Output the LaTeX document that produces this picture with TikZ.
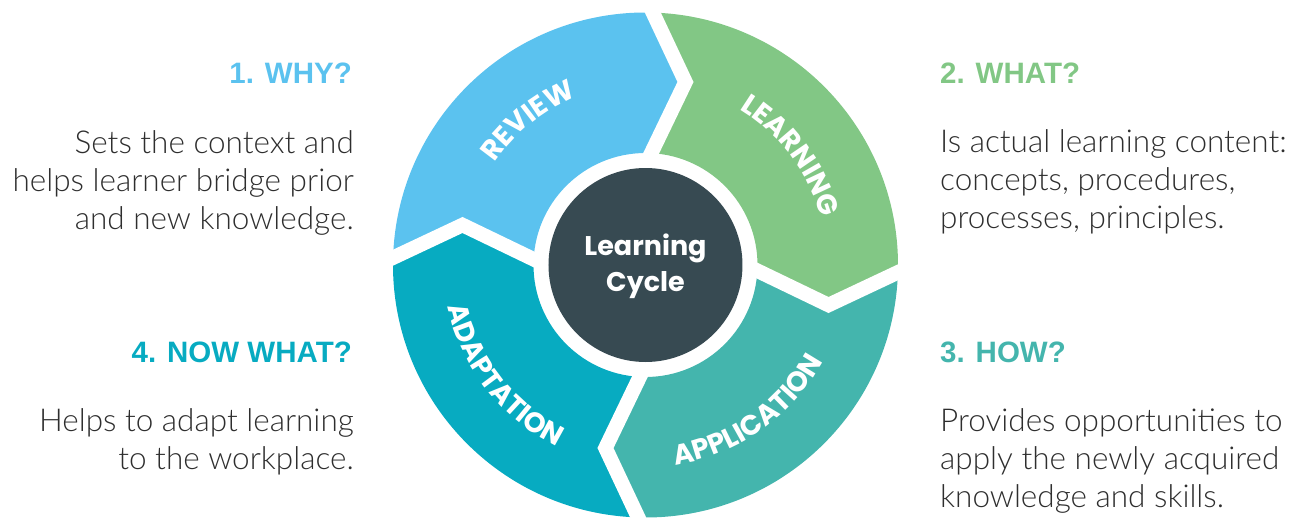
\documentclass[tikz,border=0pt]{standalone}
\usepackage{fontspec}
\setmainfont{Liberation Sans}
\newfontfamily\wheelfont{Poppins}
\newfontfamily\bodyfont{Lato Light}
\usetikzlibrary{decorations.text}
\definecolor{cReview}{HTML}{5BC2EF}
\definecolor{cLearn}{HTML}{82C785}
\definecolor{cApply}{HTML}{44B5AD}
\definecolor{cAdapt}{HTML}{07ABC1}
\definecolor{cDark}{HTML}{374A52}
\definecolor{cBody}{HTML}{2E2E2E}
\begin{document}
\begin{tikzpicture}[x=1pt,y=1pt,
  heading/.style={inner sep=0pt, font=\fontsize{29.5}{36}\selectfont\bfseries},
  body/.style={inner sep=0pt, text=cBody, font=\bodyfont\fontsize{31.5}{38}\selectfont},
  gap/.style={draw=white, line width=14.5pt, miter limit=10},
  wheellabel/.style={decorate, decoration={text along path, text align=center,
     text color=white, text={|\wheelfont\bfseries\fontsize{28}{28}\selectfont|#1}}}
]
\useasboundingbox (-645.5,-252) rectangle (666.5,265);
\def\Ro{252.5}
\def\Ri{112}
% chevron tips
\coordinate (tN) at (40,183);
\coordinate (tE) at (183,-40);
\coordinate (tS) at (-40,-183);
\coordinate (tW) at (-183,40);
% segments
\fill[cReview] (180:\Ro) arc[start angle=180,end angle=90,radius=\Ro] -- (tN) -- (90:\Ri)
  arc[start angle=90,end angle=180,radius=\Ri] -- (tW) -- cycle;
\fill[cLearn] (90:\Ro) arc[start angle=90,end angle=0,radius=\Ro] -- (tE) -- (0:\Ri)
  arc[start angle=0,end angle=90,radius=\Ri] -- (tN) -- cycle;
\fill[cApply] (0:\Ro) arc[start angle=0,end angle=-90,radius=\Ro] -- (tS) -- (-90:\Ri)
  arc[start angle=-90,end angle=0,radius=\Ri] -- (tE) -- cycle;
\fill[cAdapt] (-90:\Ro) arc[start angle=-90,end angle=-180,radius=\Ro] -- (tW) -- (180:\Ri)
  arc[start angle=-180,end angle=-90,radius=\Ri] -- (tS) -- cycle;
% white gaps
\draw[gap] (90:268) -- (tN) -- (90:100);
\draw[gap] (0:268) -- (tE) -- (0:100);
\draw[gap] (-90:268) -- (tS) -- (-90:100);
\draw[gap] (180:268) -- (tW) -- (180:100);
% centre
\node[circle, fill=cDark, minimum size=194pt, inner sep=0pt] (core) at (0,0) {};
\node[anchor=base, inner sep=0pt, text=white, align=center,
  font=\wheelfont\bfseries\fontsize{27}{36.5}\selectfont] (title) at (0,-26.7) {Learning\\Cycle};
% wheel labels
\path[wheellabel=REVIEW] (169:182) arc[start angle=169,end angle=89,radius=182];
\path[wheellabel=LEARNING] (77:182) arc[start angle=77,end angle=-3,radius=182];
\path[wheellabel=APPLICATION] (-100:202) arc[start angle=-100,end angle=-10,radius=202];
\path[wheellabel=ADAPTATION] (173:202) arc[start angle=173,end angle=263,radius=202];
% side texts (base anchor of a multi-line node = last line)
\node[heading, text=cReview, anchor=base east] (h1) at (-293.5,181.7) {1. WHY?};
\node[body, anchor=base east, align=right] (b1) at (-291.5,35.7)
  {Sets the context and\\helps learner bridge prior\\and new knowledge.};
\node[heading, text=cLearn, anchor=base west] (h2) at (294.5,181.7) {2. WHAT?};
\node[body, anchor=base west, align=left] (b2) at (294.5,36.5)
  {Is actual learning content:\\concepts, procedures,\\processes, principles.};
\node[heading, text=cApply, anchor=base west] (h3) at (294.5,-97.7) {3. HOW?};
\node[body, anchor=base west, align=left] (b3) at (294.5,-242)
  {Provides opportunities to\\apply the newly acquired\\knowledge and skills.};
\node[heading, text=cAdapt, anchor=base east] (h4) at (-293.5,-97.7) {4. NOW WHAT?};
\node[body, anchor=base east, align=right] (b4) at (-291.5,-204.7)
  {Helps to adapt learning\\to the workplace.};
\end{tikzpicture}
\end{document}
